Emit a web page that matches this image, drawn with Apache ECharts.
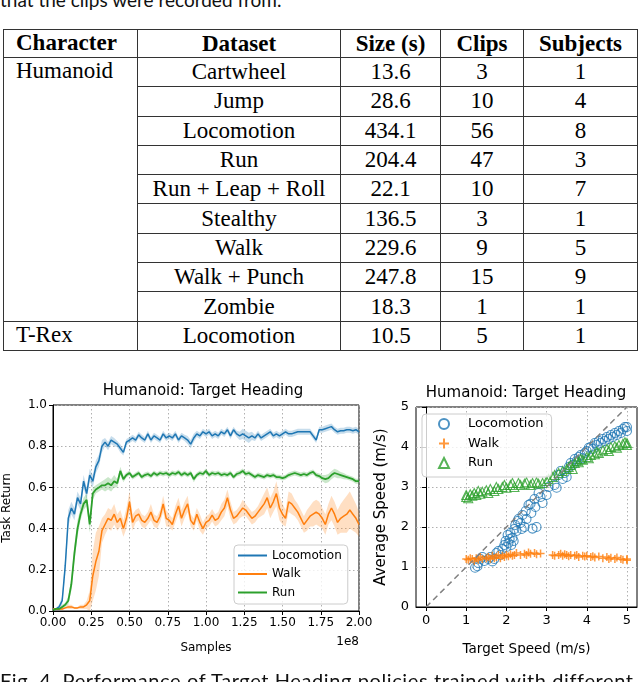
<!DOCTYPE html>
<html>
<head>
<meta charset="utf-8">
<script src="https://cdn.jsdelivr.net/npm/echarts@6/dist/echarts.min.js"></script>
<style>
body { margin: 0; width: 640px; height: 682px; overflow: hidden; background: #fff; position: relative; }
.cap { position: absolute; left: 0; font-family: 'Lato', 'Open Sans', sans-serif; font-size: 19px; color: #111; white-space: nowrap; }
#tbl { position: absolute; left: 3px; top: 29px; border-collapse: collapse; table-layout: fixed;
       font-family: 'Liberation Serif', serif; font-size: 23px; color: #000; }
#tbl th, #tbl td { border: 1.5px solid #333; padding: 0; text-align: center; line-height: 26px; }
#tbl th { height: 27px; font-weight: bold; }
#tbl td { height: 28.3px; }
#tbl td.ch, #tbl th.ch { text-align: left; padding-left: 12px; vertical-align: top; }
#main { position: absolute; left: 0; top: 360px; width: 640px; height: 322px; }
</style>
</head>
<body>
<div class="cap" style="top:-12px">that the clips were recorded from.</div>
<table id="tbl"></table>
<div id="main"></div>
<div class="cap" style="top:668px; font-size:20px; letter-spacing:0.6px">Fig. 4. Performance of Target Heading policies trained with different</div>
<script>
// ---------------- table data ----------------
var headers = ['Character', 'Dataset', 'Size (s)', 'Clips', 'Subjects'];
var characters = ['Humanoid', 'T-Rex'];
var characterRows = [9, 1];
var datasets = ['Cartwheel', 'Jump', 'Locomotion', 'Run', 'Run + Leap + Roll', 'Stealthy', 'Walk', 'Walk + Punch', 'Zombie', 'Locomotion'];
var sizes = ['13.6', '28.6', '434.1', '204.4', '22.1', '136.5', '229.6', '247.8', '18.3', '10.5'];
var clips = [3, 10, 56, 47, 10, 3, 9, 15, 1, 5];
var subjects = [1, 4, 8, 3, 7, 1, 5, 9, 1, 1];

// ---------------- left plot: task return vs samples (x in 1e8) ----------------
var samples = [0, 0.02, 0.04, 0.06, 0.08, 0.1, 0.12, 0.14, 0.16, 0.18,
    0.2, 0.22, 0.24, 0.26, 0.28, 0.3, 0.32, 0.34, 0.36, 0.38,
    0.4, 0.42, 0.44, 0.46, 0.48, 0.5, 0.52, 0.54, 0.56, 0.58,
    0.6, 0.62, 0.64, 0.66, 0.68, 0.7, 0.72, 0.74, 0.76, 0.78,
    0.8, 0.82, 0.84, 0.86, 0.88, 0.9, 0.92, 0.94, 0.96, 0.98,
    1, 1.02, 1.04, 1.06, 1.08, 1.1, 1.12, 1.14, 1.16, 1.18,
    1.2, 1.22, 1.24, 1.26, 1.28, 1.3, 1.32, 1.34, 1.36, 1.38,
    1.4, 1.42, 1.44, 1.46, 1.48, 1.5, 1.52, 1.54, 1.56, 1.58,
    1.6, 1.62, 1.64, 1.66, 1.68, 1.7, 1.72, 1.74, 1.76, 1.78,
    1.8, 1.82, 1.84, 1.86, 1.88, 1.9, 1.92, 1.94, 1.96, 1.98,
    2];
var locoReturn = [0.01, 0.01, 0.02, 0.05, 0.22, 0.45, 0.50, 0.47, 0.55, 0.52,
    0.63, 0.57, 0.66, 0.63, 0.70, 0.73, 0.80, 0.82, 0.80, 0.83,
    0.82, 0.81, 0.79, 0.77, 0.82, 0.83, 0.84, 0.83, 0.855, 0.84,
    0.83, 0.86, 0.83, 0.85, 0.84, 0.83, 0.86, 0.84, 0.85, 0.84,
    0.86, 0.83, 0.85, 0.84, 0.83, 0.81, 0.84, 0.86, 0.85, 0.87,
    0.86, 0.87, 0.85, 0.86, 0.85, 0.87, 0.86, 0.88, 0.85, 0.88,
    0.86, 0.85, 0.86, 0.85, 0.84, 0.85, 0.84, 0.86, 0.84, 0.85,
    0.86, 0.87, 0.85, 0.86, 0.85, 0.86, 0.87, 0.86, 0.86, 0.865,
    0.87, 0.87, 0.87, 0.87, 0.87, 0.85, 0.83, 0.88, 0.88, 0.885,
    0.89, 0.895, 0.88, 0.87, 0.875, 0.875, 0.88, 0.88, 0.875, 0.88,
    0.87];
var locoSpread = [0.005, 0.005, 0.01, 0.02, 0.04, 0.04, 0.03, 0.03, 0.03, 0.03,
    0.03, 0.03, 0.03, 0.03, 0.03, 0.03, 0.03, 0.02, 0.02, 0.02,
    0.02, 0.015, 0.02, 0.015, 0.015, 0.015, 0.015, 0.015, 0.015, 0.015,
    0.015, 0.015, 0.015, 0.015, 0.015, 0.015, 0.015, 0.015, 0.015, 0.015,
    0.015, 0.015, 0.015, 0.015, 0.02, 0.02, 0.02, 0.015, 0.015, 0.015,
    0.015, 0.015, 0.015, 0.015, 0.015, 0.015, 0.015, 0.015, 0.015, 0.015,
    0.015, 0.02, 0.025, 0.025, 0.025, 0.02, 0.015, 0.015, 0.015, 0.015,
    0.015, 0.015, 0.015, 0.015, 0.015, 0.015, 0.015, 0.015, 0.015, 0.015,
    0.015, 0.015, 0.015, 0.015, 0.015, 0.015, 0.015, 0.015, 0.015, 0.015,
    0.015, 0.015, 0.015, 0.015, 0.015, 0.015, 0.015, 0.015, 0.015, 0.015,
    0.015];
var walkReturn = [0.01, 0.01, 0.01, 0.01, 0.015, 0.02, 0.02, 0.015, 0.015, 0.02,
    0.02, 0.03, 0.05, 0.17, 0.24, 0.29, 0.39, 0.42, 0.45, 0.44,
    0.47, 0.43, 0.45, 0.40, 0.45, 0.53, 0.43, 0.46, 0.47, 0.44,
    0.43, 0.45, 0.48, 0.44, 0.43, 0.46, 0.52, 0.45, 0.44, 0.42,
    0.47, 0.51, 0.45, 0.49, 0.52, 0.44, 0.42, 0.47, 0.43, 0.40,
    0.43, 0.44, 0.465, 0.44, 0.45, 0.48, 0.50, 0.55, 0.49, 0.45,
    0.46, 0.48, 0.50, 0.49, 0.47, 0.45, 0.46, 0.48, 0.50, 0.52,
    0.55, 0.50, 0.53, 0.57, 0.50, 0.47, 0.45, 0.53, 0.52, 0.50,
    0.48, 0.45, 0.42, 0.44, 0.46, 0.47, 0.48, 0.47, 0.45, 0.42,
    0.47, 0.50, 0.47, 0.43, 0.45, 0.46, 0.47, 0.49, 0.47, 0.45,
    0.42];
var walkSpread = [0.005, 0.005, 0.005, 0.005, 0.005, 0.01, 0.01, 0.005, 0.005, 0.01,
    0.01, 0.02, 0.05, 0.12, 0.14, 0.12, 0.06, 0.05, 0.05, 0.05,
    0.05, 0.04, 0.04, 0.04, 0.05, 0.05, 0.04, 0.03, 0.03, 0.03,
    0.03, 0.03, 0.04, 0.03, 0.03, 0.03, 0.04, 0.04, 0.03, 0.03,
    0.04, 0.04, 0.04, 0.04, 0.04, 0.03, 0.03, 0.03, 0.04, 0.03,
    0.03, 0.03, 0.03, 0.03, 0.03, 0.04, 0.04, 0.04, 0.04, 0.03,
    0.03, 0.03, 0.04, 0.03, 0.03, 0.03, 0.03, 0.03, 0.04, 0.05,
    0.05, 0.05, 0.05, 0.06, 0.06, 0.05, 0.04, 0.05, 0.05, 0.04,
    0.04, 0.04, 0.04, 0.05, 0.05, 0.06, 0.06, 0.06, 0.05, 0.05,
    0.05, 0.06, 0.06, 0.06, 0.07, 0.08, 0.09, 0.09, 0.08, 0.07,
    0.06];
var runReturn = [0.005, 0.01, 0.01, 0.02, 0.03, 0.05, 0.13, 0.28, 0.40, 0.47,
    0.52, 0.54, 0.42, 0.57, 0.59, 0.60, 0.61, 0.61, 0.62, 0.61,
    0.63, 0.62, 0.68, 0.64, 0.66, 0.67, 0.65, 0.66, 0.67, 0.65,
    0.66, 0.665, 0.655, 0.67, 0.66, 0.67, 0.665, 0.67, 0.66, 0.67,
    0.665, 0.675, 0.66, 0.67, 0.66, 0.67, 0.64, 0.66, 0.67, 0.665,
    0.68, 0.66, 0.67, 0.665, 0.67, 0.66, 0.665, 0.66, 0.67, 0.65,
    0.665, 0.67, 0.68, 0.665, 0.67, 0.66, 0.65, 0.66, 0.655, 0.65,
    0.66, 0.655, 0.66, 0.65, 0.65, 0.645, 0.65, 0.66, 0.665, 0.67,
    0.665, 0.66, 0.665, 0.66, 0.67, 0.675, 0.66, 0.655, 0.645, 0.64,
    0.645, 0.66, 0.67, 0.665, 0.66, 0.655, 0.65, 0.645, 0.64, 0.63,
    0.63];
var runSpread = [0.005, 0.005, 0.005, 0.01, 0.01, 0.02, 0.03, 0.04, 0.04, 0.03,
    0.03, 0.03, 0.04, 0.03, 0.02, 0.02, 0.02, 0.03, 0.03, 0.03,
    0.03, 0.02, 0.02, 0.015, 0.012, 0.012, 0.012, 0.012, 0.012, 0.012,
    0.012, 0.012, 0.012, 0.012, 0.012, 0.012, 0.012, 0.012, 0.012, 0.012,
    0.012, 0.012, 0.012, 0.012, 0.012, 0.012, 0.015, 0.012, 0.012, 0.012,
    0.012, 0.012, 0.012, 0.012, 0.012, 0.012, 0.012, 0.012, 0.012, 0.012,
    0.012, 0.012, 0.012, 0.012, 0.012, 0.012, 0.012, 0.012, 0.012, 0.012,
    0.012, 0.012, 0.012, 0.012, 0.012, 0.012, 0.012, 0.012, 0.012, 0.012,
    0.012, 0.012, 0.012, 0.012, 0.012, 0.012, 0.012, 0.012, 0.015, 0.02,
    0.02, 0.02, 0.02, 0.02, 0.015, 0.015, 0.012, 0.012, 0.012, 0.012,
    0.012];

// ---------------- right plot: average speed vs target speed ----------------
var locoSpeed = [[1.22, 0.98], [1.28, 1.02], [1.3, 1.1], [1.35, 1.2], [1.4, 1.25], [1.45, 1.15], [1.55, 1.2], [1.6, 1.25],
    [1.65, 1.14], [1.7, 1.2], [1.75, 1.35], [1.8, 1.4], [1.85, 1.3], [1.9, 1.45], [1.95, 1.55], [1.98, 1.65],
    [2.0, 1.5], [2.03, 1.8], [2.05, 1.6], [2.08, 1.7], [2.1, 1.85], [2.12, 1.55], [2.15, 1.73], [2.18, 1.65],
    [2.2, 1.95], [2.22, 2.05], [2.25, 1.9], [2.28, 2.15], [2.3, 2.2], [2.35, 2.1], [2.38, 1.95], [2.4, 2.3],
    [2.45, 2.0], [2.48, 2.4], [2.5, 2.2], [2.55, 2.55], [2.6, 2.58], [2.62, 2.35], [2.65, 1.96], [2.7, 2.7],
    [2.72, 2.5], [2.75, 2.0], [2.8, 2.85], [2.85, 2.75], [2.9, 2.6], [3.0, 2.8], [3.05, 3.0], [3.2, 3.05],
    [3.25, 2.98], [3.3, 3.3], [3.35, 3.4], [3.4, 3.2], [3.45, 3.35], [3.5, 3.25], [3.55, 3.5], [3.6, 3.6],
    [3.65, 3.55], [3.7, 3.7], [3.75, 3.65], [3.8, 3.75], [3.85, 3.8], [3.9, 3.72], [3.95, 3.85], [4.0, 3.9],
    [4.05, 3.98], [4.1, 4.0], [4.15, 3.95], [4.2, 4.1], [4.25, 4.05], [4.3, 4.15], [4.35, 4.1], [4.4, 4.2],
    [4.45, 4.15], [4.5, 4.25], [4.55, 4.2], [4.6, 4.3], [4.65, 4.25], [4.7, 4.35], [4.75, 4.3], [4.8, 4.4],
    [4.85, 4.35], [4.9, 4.45], [4.95, 4.5], [5.0, 4.4], [5.0, 4.5]];
var walkSpeed = [[1.0, 1.2], [1.05, 1.18], [1.1, 1.22], [1.15, 1.2], [1.2, 1.15], [1.25, 1.22], [1.3, 1.18], [1.35, 1.25],
    [1.4, 1.2], [1.5, 1.22], [1.55, 1.25], [1.6, 1.2], [1.65, 1.28], [1.7, 1.22], [1.75, 1.25], [1.8, 1.3],
    [1.85, 1.22], [1.9, 1.28], [1.95, 1.25], [2.0, 1.3], [2.05, 1.27], [2.1, 1.32], [2.15, 1.28], [2.2, 1.3],
    [2.25, 1.35], [2.35, 1.3], [2.45, 1.33], [2.5, 1.3], [2.55, 1.36], [2.6, 1.33], [2.7, 1.35], [2.75, 1.32],
    [2.85, 1.34], [3.15, 1.3], [3.2, 1.28], [3.3, 1.3], [3.35, 1.33], [3.4, 1.28], [3.45, 1.32], [3.5, 1.3],
    [3.55, 1.27], [3.6, 1.3], [3.7, 1.28], [3.75, 1.3], [3.8, 1.25], [3.9, 1.28], [3.95, 1.26], [4.0, 1.28],
    [4.1, 1.25], [4.15, 1.27], [4.2, 1.24], [4.3, 1.26], [4.4, 1.22], [4.5, 1.25], [4.55, 1.2], [4.6, 1.23],
    [4.7, 1.2], [4.75, 1.24], [4.85, 1.2], [4.9, 1.18], [5.0, 1.2], [5.0, 1.17]];
var runSpeed = [[1.0, 2.75], [1.0, 2.8], [1.05, 2.72], [1.1, 2.82], [1.15, 2.78], [1.2, 2.85], [1.25, 2.8], [1.3, 2.9],
    [1.35, 2.83], [1.4, 2.88], [1.5, 2.92], [1.55, 2.85], [1.6, 2.95], [1.7, 2.9], [1.75, 3.0], [1.8, 2.95],
    [1.9, 3.0], [1.95, 3.05], [2.0, 2.98], [2.1, 3.05], [2.15, 3.1], [2.2, 3.0], [2.3, 3.1], [2.35, 3.05],
    [2.45, 3.08], [2.5, 3.12], [2.6, 3.05], [2.65, 3.1], [2.75, 3.12], [2.8, 3.08], [2.9, 3.1], [3.0, 3.15],
    [3.05, 3.2], [3.15, 3.25], [3.2, 3.3], [3.3, 3.35], [3.4, 3.4], [3.5, 3.45], [3.55, 3.5], [3.6, 3.55],
    [3.65, 3.45], [3.7, 3.6], [3.75, 3.65], [3.8, 3.62], [3.85, 3.7], [3.9, 3.68], [4.0, 3.75], [4.05, 3.72],
    [4.1, 3.8], [4.2, 3.82], [4.25, 3.88], [4.3, 3.85], [4.4, 3.92], [4.5, 3.95], [4.55, 3.9], [4.6, 4.0],
    [4.7, 4.02], [4.75, 3.98], [4.8, 4.05], [4.9, 4.08], [4.95, 4.12], [5.0, 4.1], [5.0, 4.05]];
var idealLine = [[0, 0], [5, 5]];
var speedTicks = [0, 1, 2, 3, 4, 5];

// ---------------- build table ----------------
var html = '<colgroup><col style="width:134px"><col style="width:203px"><col style="width:100px"><col style="width:83px"><col style="width:114px"></colgroup>';
html += '<tr>' + headers.map(function (h, i) { return '<th' + (i == 0 ? ' class="ch"' : '') + '>' + h + '</th>'; }).join('') + '</tr>';
var r = 0;
characters.forEach(function (name, ci) {
    for (var k = 0; k < characterRows[ci]; k++) {
        html += '<tr>';
        if (k == 0) html += '<td class="ch" rowspan="' + characterRows[ci] + '">' + name + '</td>';
        html += '<td>' + datasets[r] + '</td><td>' + sizes[r] + '</td><td>' + clips[r] + '</td><td>' + subjects[r] + '</td></tr>';
        r++;
    }
});
document.getElementById('tbl').innerHTML = html;

// ---------------- charts ----------------
var FONT = 'DejaVu Sans';
var BLUE = '#1f77b4', ORANGE = '#ff7f0e', GREEN = '#2ca02c';
var chart = echarts.init(document.getElementById('main'));

// shaded band (mean +- spread) drawn as one polygon through the axis scales
function band(vals, spread, color) {
    var lo = vals.map(function (v, i) { return v - spread[i]; });
    var hi = vals.map(function (v, i) { return v + spread[i]; });
    return {
        type: 'custom', xAxisIndex: 0, yAxisIndex: 0, silent: true,
        data: samples.map(function (x, i) { return [x, lo[i], hi[i]]; }),
        encode: { x: 0, y: [1, 2] },
        renderItem: function (params, api) {
            if (params.dataIndex !== 0) return;
            var pts = [];
            for (var i = 0; i < samples.length; i++) pts.push(api.coord([samples[i], hi[i]]));
            for (var j = samples.length - 1; j >= 0; j--) pts.push(api.coord([samples[j], lo[j]]));
            return { type: 'polygon', shape: { points: pts }, style: { fill: color, opacity: 0.25 } };
        }
    };
}
function curve(name, vals, color, w) {
    return {
        name: name, type: 'line', xAxisIndex: 0, yAxisIndex: 0, symbol: 'none',
        lineStyle: { color: color, width: w }, itemStyle: { color: color },
        data: samples.map(function (x, i) { return [x, vals[i]]; })
    };
}

var axisCommon = {
    axisLine: { show: true, lineStyle: { color: '#000', width: 1 } },
    axisTick: { show: true, length: 4, lineStyle: { color: '#000' } },
    splitLine: { show: true, lineStyle: { color: '#b0b0b0', type: [1.5, 2.5], width: 1 } },
    nameTextStyle: { fontFamily: FONT, fontSize: 12, color: '#000' }
};
function ax(o) { return Object.assign({}, axisCommon, o); }

var series = [];
series.push(band(locoReturn, locoSpread, BLUE));
series.push(curve('Locomotion', locoReturn, BLUE, 1.5));
series.push(band(walkReturn, walkSpread, ORANGE));
series.push(curve('Walk', walkReturn, ORANGE, 1.5));
series.push(band(runReturn, runSpread, GREEN));
series.push(curve('Run', runReturn, GREEN, 1.8));

series.push({
    name: 'Locomotion ', type: 'scatter', xAxisIndex: 1, yAxisIndex: 1, symbol: 'circle', symbolSize: 9,
    itemStyle: { color: 'rgba(0,0,0,0)', borderColor: BLUE, borderWidth: 1.1 }, data: locoSpeed
});
series.push({
    name: 'Walk ', type: 'scatter', xAxisIndex: 1, yAxisIndex: 1, symbol: 'path://M5 0 L5 10 M0 5 L10 5', symbolSize: 8,
    itemStyle: { color: 'rgba(0,0,0,0)', borderColor: ORANGE, borderWidth: 1.5 }, data: walkSpeed
});
series.push({
    name: 'Run ', type: 'scatter', xAxisIndex: 1, yAxisIndex: 1, symbol: 'triangle', symbolSize: 9,
    itemStyle: { color: 'rgba(0,0,0,0)', borderColor: GREEN, borderWidth: 1.1 }, data: runSpeed
});
series.push({
    type: 'line', xAxisIndex: 1, yAxisIndex: 1, symbol: 'none', silent: true, z: 5,
    lineStyle: { color: '#808080', width: 1.5, type: [6, 4] }, data: idealLine
});

var legendCommon = {
    orient: 'vertical', selectedMode: false,
    backgroundColor: 'rgba(255,255,255,0.8)', borderColor: '#cccccc', borderWidth: 1, borderRadius: 4
};

chart.setOption({
    animation: false,
    textStyle: { fontFamily: FONT },
    grid: [
        { left: 47, top: 45, width: 312, height: 206, show: true, borderColor: '#000', borderWidth: 1 },
        { left: 416, top: 47, width: 221, height: 200, show: true, borderColor: '#000', borderWidth: 1 }
    ],
    xAxis: [
        ax({ gridIndex: 0, type: 'value', min: 0, max: 2, interval: 0.25, name: 'Samples', nameLocation: 'middle', nameGap: 31,
            axisLabel: { fontFamily: FONT, fontSize: 12, color: '#000', margin: 6, formatter: function (v) { return v.toFixed(2); } } }),
        ax({ gridIndex: 1, type: 'value', min: -0.25, max: 5.25, name: 'Target Speed (m/s)', nameLocation: 'middle', nameGap: 35,
            nameTextStyle: { fontFamily: FONT, fontSize: 13.5, color: '#000' },
            axisTick: { show: true, length: 4, lineStyle: { color: '#000' }, customValues: speedTicks },
            axisLabel: { fontFamily: FONT, fontSize: 13, color: '#000', margin: 7, customValues: speedTicks } })
    ],
    yAxis: [
        ax({ gridIndex: 0, type: 'value', min: 0, max: 1, interval: 0.2, name: 'Task Return', nameLocation: 'middle', nameGap: 40,
            axisLabel: { fontFamily: FONT, fontSize: 12, color: '#000', margin: 6, formatter: function (v) { return v.toFixed(1); } } }),
        ax({ gridIndex: 1, type: 'value', min: 0, max: 5, interval: 1, name: 'Average Speed (m/s)', nameLocation: 'middle', nameGap: 27,
            nameTextStyle: { fontFamily: FONT, fontSize: 15, color: '#000' },
            axisLabel: { fontFamily: FONT, fontSize: 13, color: '#000', margin: 7 } })
    ],
    legend: [
        Object.assign({}, legendCommon, {
            data: ['Locomotion', 'Walk', 'Run'], left: 234, top: 185, icon: 'rect',
            itemWidth: 29, itemHeight: 2, itemGap: 5.5, padding: [4, 6, 5, 4],
            textStyle: { fontFamily: FONT, fontSize: 12, lineHeight: 13, color: '#000' }
        }),
        Object.assign({}, legendCommon, {
            data: ['Locomotion ', 'Walk ', 'Run '], left: 422, top: 54,
            formatter: function (n) { return n.trim(); },
            itemWidth: 10, itemHeight: 10, itemGap: 5.5, padding: [3, 8, 7, 16],
            textStyle: { fontFamily: FONT, fontSize: 13, lineHeight: 14, color: '#000', padding: [0, 0, 0, 14] }
        })
    ],
    graphic: [
        { type: 'text', x: 203, y: 31, style: { text: 'Humanoid: Target Heading', align: 'center', verticalAlign: 'middle', font: '15px "DejaVu Sans"', fill: '#000' } },
        { type: 'text', x: 526, y: 33, style: { text: 'Humanoid: Target Heading', align: 'center', verticalAlign: 'middle', font: '15px "DejaVu Sans"', fill: '#000' } },
        { type: 'text', x: 359, y: 282, style: { text: '1e8', align: 'right', verticalAlign: 'middle', font: '12px "DejaVu Sans"', fill: '#000' } }
    ],
    series: series
});
</script>
</body>
</html>
